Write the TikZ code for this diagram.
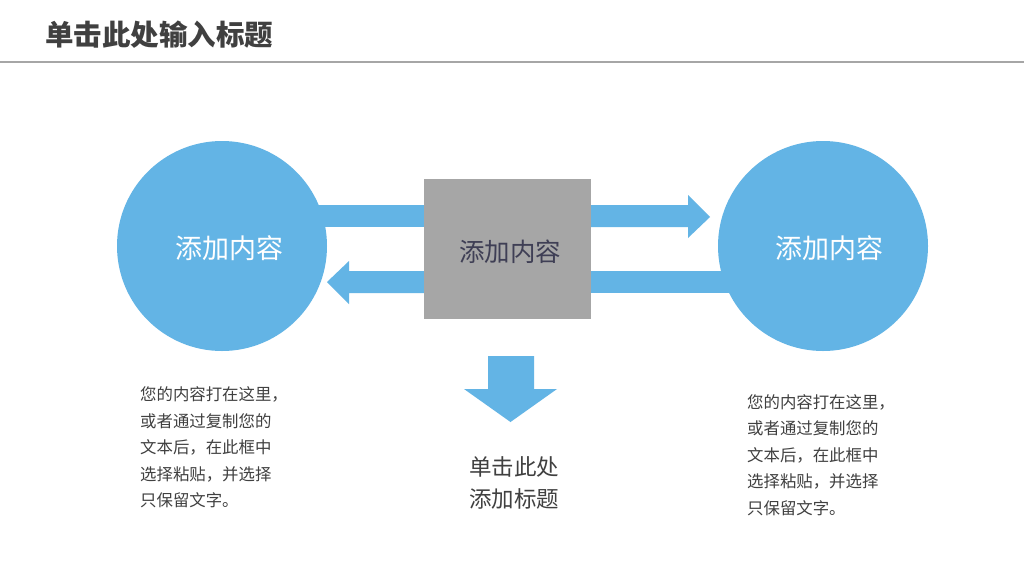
\documentclass[tikz,border=0pt]{standalone}
\usepackage{fontspec}
\setmainfont{Noto Sans CJK SC}
\definecolor{myblue}{HTML}{63B4E5}
\definecolor{mygray}{HTML}{A6A6A6}
\definecolor{txt}{HTML}{404040}
\definecolor{boxtxt}{HTML}{3F3F55}
\begin{document}
\begin{tikzpicture}[x=1pt,y=-1pt,
  blk/.style={fill=myblue,draw=none},
  para/.style={anchor=west,align=left,text=txt,inner sep=0pt,font=\fontsize{16.4}{26.4}\selectfont}]
\useasboundingbox (0,0) rectangle (1024,576);
\fill[white] (0,0) rectangle (1024,576);
% title
\node[anchor=west,inner sep=0pt,text=txt,font=\fontsize{28.5}{30}\selectfont\bfseries] (title) at (45,35) {单击此处输入标题};
\draw[color=mygray,line width=2pt] (0,62) -- (1024,62);
% bars and arrows
\fill[blk] (280,205) rectangle (424,227);
\fill[blk] (591,205) -- (688,205) -- (688,195) -- (710,217) -- (688,238) -- (688,227) -- (591,227) -- cycle;
\fill[blk] (424,271) -- (349,271) -- (349,261) -- (327,282) -- (349,304) -- (349,293) -- (424,293) -- cycle;
\fill[blk] (591,271) rectangle (760,293);
% circles
\fill[blk] (222,246) circle (105);
\fill[blk] (823,246) circle (105);
\node[text=white,font=\fontsize{27}{30}\selectfont] (c1) at (229,248) {添加内容};
\node[text=white,font=\fontsize{27}{30}\selectfont] (c2) at (829,248) {添加内容};
% square
\node[fill=mygray,minimum width=167pt,minimum height=140pt,inner sep=0pt] (sq) at (507.5,249) {};
\node[text=boxtxt,font=\fontsize{25.5}{30}\selectfont] (sqt) at (510,252) {添加内容};
% down arrow
\fill[blk] (488,356) -- (534,356) -- (534,389) -- (557,389) -- (510.5,422) -- (464,389) -- (488,389) -- cycle;
\node[text=txt,align=center,font=\fontsize{22.5}{32}\selectfont] (sub) at (514,483) {单击此处\\添加标题};
% paragraphs
\node[para] (p1) at (140,447.5) {您的内容打在这里，\\或者通过复制您的\\文本后，在此框中\\选择粘贴，并选择\\只保留文字。};
\node[para] (p2) at (747,455) {您的内容打在这里，\\或者通过复制您的\\文本后，在此框中\\选择粘贴，并选择\\只保留文字。};
\end{tikzpicture}
\end{document}
